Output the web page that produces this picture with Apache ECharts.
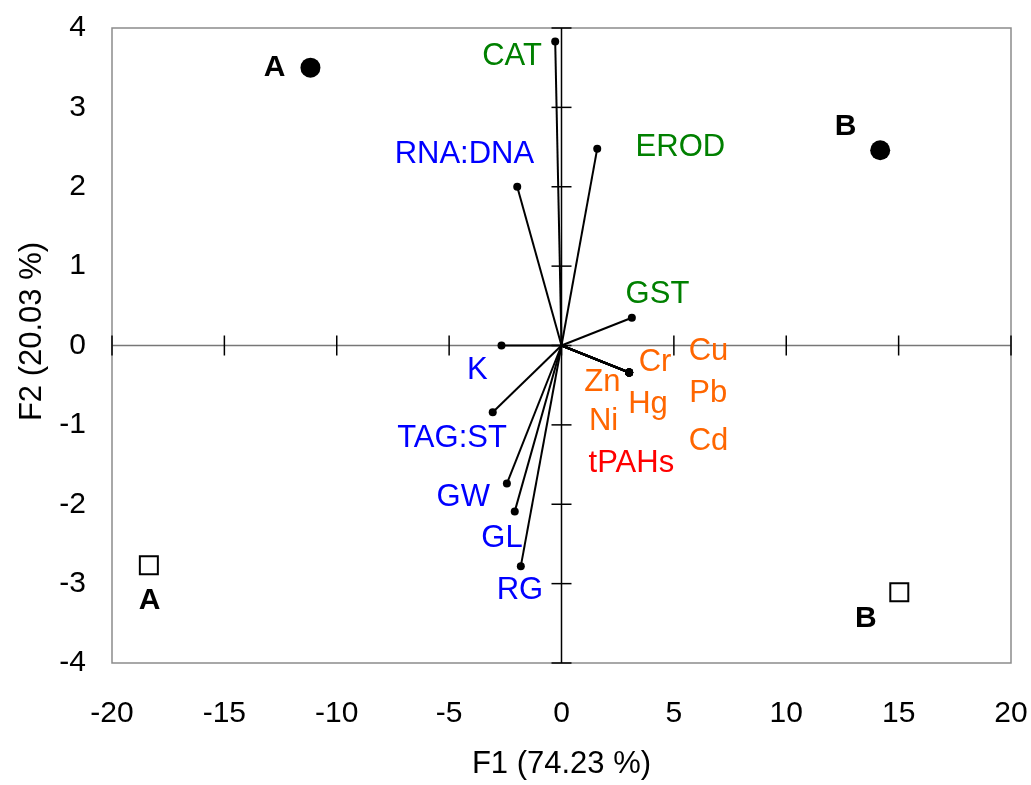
<!DOCTYPE html>
<html><head><meta charset="utf-8">
<script src="https://cdn.jsdelivr.net/npm/echarts@6/dist/echarts.min.js"></script>
<style>html,body{margin:0;padding:0;background:#fff;overflow:hidden}#c{width:1031px;height:785px}</style>
</head><body><div id="c"></div>
<script>
// ---- axes ----
const X_TICKS = [-20, -15, -10, -5, 0, 5, 10, 15, 20];
const Y_TICKS = [-4, -3, -2, -1, 0, 1, 2, 3, 4];
const X_NAME = 'F1 (74.23 %)';
const Y_NAME = 'F2 (20.03 %)';

// ---- variable vectors (F1, F2 end points) ----
const VAR_NAMES = ['CAT', 'EROD', 'GST', 'RNA:DNA', 'K', 'TAG:ST', 'GW', 'GL', 'RG',
                   'Cr', 'Cu', 'Zn', 'Hg', 'Ni', 'Pb', 'Cd', 'tPAHs'];
const VAR_GROUP = ['bio', 'bio', 'bio', 'cond', 'cond', 'cond', 'cond', 'cond', 'cond',
                   'metal', 'metal', 'metal', 'metal', 'metal', 'metal', 'metal', 'pah'];
const VAR_F1 = [-0.28, 1.59, 3.13, -1.97, -2.67, -3.06, -2.43, -2.08, -1.81,
                3.01, 3.01, 3.01, 3.01, 3.01, 3.01, 3.01, 3.01];
const VAR_F2 = [3.83, 2.48, 0.35, 2.00, 0.00, -0.84, -1.74, -2.09, -2.78,
                -0.34, -0.34, -0.34, -0.34, -0.34, -0.34, -0.34, -0.34];
// label anchor (F1, F2 units)
const VAR_LABEL_F1 = [-2.20, 5.29, 4.27, -4.32, -3.75, -4.87, -4.37, -2.65, -1.85,
                      4.16, 6.54, 1.82, 3.85, 1.87, 6.53, 6.54, 3.11];
const VAR_LABEL_F2 = [3.64, 2.49, 0.64, 2.41, -0.31, -1.17, -1.91, -2.43, -3.08,
                      -0.21, -0.08, -0.46, -0.74, -0.96, -0.61, -1.21, -1.48];

// ---- sites (observations) ----
const SITE_NAMES = ['A', 'B'];
const SITE_CIRCLE_F1 = [-11.17, 14.18];
const SITE_CIRCLE_F2 = [3.50, 2.46];
const SITE_SQUARE_F1 = [-18.36, 15.03];
const SITE_SQUARE_F2 = [-2.77, -3.11];
const SITE_CIRCLE_LABEL_F1 = [-12.77, 12.64];
const SITE_CIRCLE_LABEL_F2 = [3.50, 2.75];
const SITE_SQUARE_LABEL_F1 = [-18.33, 13.54];
const SITE_SQUARE_LABEL_F2 = [-3.22, -3.44];

const GROUP_COLOR = { bio: '#008000', cond: '#0000ff', metal: '#ff6600', pah: '#ff0000' };
const FONT = '"Liberation Sans", Arial, Helvetica, sans-serif';
const FS = 30;
const FS_TEXT = 31;

const chart = echarts.init(document.getElementById('c'), null, { renderer: 'canvas', width: 1031, height: 785 });

const tickData = X_TICKS.map(v => [v, 0, 0]).concat(Y_TICKS.map(v => [0, v, 1]));
const axisLineData = [
  [X_TICKS[0], 0, X_TICKS[X_TICKS.length - 1], 0, 0],
  [0, Y_TICKS[0], 0, Y_TICKS[Y_TICKS.length - 1], 1]
];
const vecData = VAR_NAMES.map((n, i) => ({ name: n, value: [VAR_F1[i], VAR_F2[i]] }));
const labelData = VAR_NAMES.map((n, i) => ({
  name: n, value: [VAR_LABEL_F1[i], VAR_LABEL_F2[i]],
  label: { color: GROUP_COLOR[VAR_GROUP[i]] }
}));
const siteLabelData = SITE_NAMES.map((n, i) => ({ name: n, value: [SITE_CIRCLE_LABEL_F1[i], SITE_CIRCLE_LABEL_F2[i]] }))
  .concat(SITE_NAMES.map((n, i) => ({ name: n, value: [SITE_SQUARE_LABEL_F1[i], SITE_SQUARE_LABEL_F2[i]] })));

const option = {
  animation: false,
  backgroundColor: '#fff',
  grid: { left: 112, width: 899, top: 28, height: 641, show: true, borderColor: '#8c8c8c', borderWidth: 1.5, backgroundColor: 'transparent' },
  xAxis: {
    type: 'value', min: X_TICKS[0], max: X_TICKS[X_TICKS.length - 1], interval: 5,
    axisLine: { show: false }, axisTick: { show: false }, splitLine: { show: false },
    axisLabel: { fontSize: FS, color: '#000', fontFamily: FONT, margin: 36 },
    name: X_NAME, nameLocation: 'middle', nameGap: 86,
    nameTextStyle: { fontSize: FS_TEXT, color: '#000', fontFamily: FONT }
  },
  yAxis: {
    type: 'value', min: Y_TICKS[0], max: Y_TICKS[Y_TICKS.length - 1], interval: 1,
    axisLine: { show: false }, axisTick: { show: false }, splitLine: { show: false },
    axisLabel: { fontSize: FS, color: '#000', fontFamily: FONT, margin: 26 },
    name: Y_NAME, nameLocation: 'middle', nameGap: 64,
    nameTextStyle: { fontSize: FS_TEXT, color: '#000', fontFamily: FONT, padding: [0, 0, 0, 28] }
  },
  series: [
    { // zero axis lines
      type: 'custom', z: 1, silent: true, data: axisLineData,
      renderItem: (params, api) => {
        const a = api.coord([api.value(0), api.value(1)]);
        const b = api.coord([api.value(2), api.value(3)]);
        const horiz = api.value(4) === 0;
        return { type: 'line', shape: { x1: a[0], y1: a[1], x2: b[0], y2: b[1] },
                 style: { stroke: horiz ? '#777' : '#000', lineWidth: 1.5 } };
      }
    },
    { // crossing tick marks
      type: 'custom', z: 1, silent: true, data: tickData,
      renderItem: (params, api) => {
        const p = api.coord([api.value(0), api.value(1)]);
        const vert = api.value(2) === 0;
        const s = vert ? { x1: p[0], y1: p[1] - 10, x2: p[0], y2: p[1] + 10 }
                       : { x1: p[0] - 10, y1: p[1], x2: p[0] + 10, y2: p[1] };
        return { type: 'line', shape: s, style: { stroke: '#000', lineWidth: 1.5 } };
      }
    },
    { // vectors from origin
      type: 'custom', z: 2, silent: true, data: vecData,
      renderItem: (params, api) => {
        const o = api.coord([0, 0]);
        const p = api.coord([api.value(0), api.value(1)]);
        return { type: 'line', shape: { x1: o[0], y1: o[1], x2: p[0], y2: p[1] },
                 style: { stroke: '#000', lineWidth: 2 } };
      }
    },
    { // vector end dots
      type: 'scatter', z: 3, silent: true, data: vecData, symbol: 'circle', symbolSize: 8,
      itemStyle: { color: '#000', opacity: 1 }
    },
    { // variable labels
      type: 'scatter', z: 4, silent: true, data: labelData, symbolSize: 0,
      itemStyle: { opacity: 1 },
      label: { show: true, position: 'inside', formatter: '{b}', fontSize: FS_TEXT, fontFamily: FONT, align: 'center', verticalAlign: 'middle', opacity: 1 }
    },
    { // sites, filled circles
      type: 'scatter', z: 5, silent: true, symbol: 'circle', symbolSize: 20,
      data: SITE_NAMES.map((n, i) => ({ name: n, value: [SITE_CIRCLE_F1[i], SITE_CIRCLE_F2[i]] })),
      itemStyle: { color: '#000', opacity: 1 }
    },
    { // sites, open squares
      type: 'scatter', z: 5, silent: true, symbol: 'rect', symbolSize: 18,
      data: SITE_NAMES.map((n, i) => ({ name: n, value: [SITE_SQUARE_F1[i], SITE_SQUARE_F2[i]] })),
      itemStyle: { color: '#fff', borderColor: '#000', borderWidth: 2, opacity: 1 }
    },
    { // site labels
      type: 'scatter', z: 6, silent: true, data: siteLabelData, symbolSize: 0,
      itemStyle: { opacity: 1 },
      label: { show: true, position: 'inside', formatter: '{b}', fontSize: FS, fontWeight: 'bold', color: '#000', fontFamily: FONT, align: 'center', verticalAlign: 'middle', opacity: 1 }
    }
  ]
};
chart.setOption(option);
</script>
</body></html>
